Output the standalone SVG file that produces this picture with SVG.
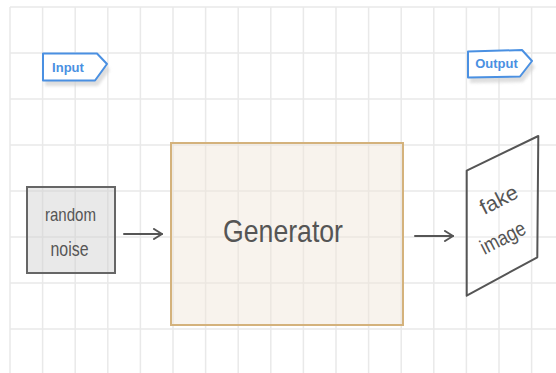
<svg xmlns="http://www.w3.org/2000/svg" width="556" height="373" viewBox="0 0 556 373">
  <style>
    .grid line { stroke: #e9e9e9; stroke-width: 1.5; }
    .txt { font-family: "Liberation Sans", "DejaVu Sans", sans-serif; fill: #555555; }
    .tag { fill: #ffffff; stroke: #4a90e2; stroke-width: 2; stroke-linejoin: round; }
    .tagshadow { fill: #d0d0d0; opacity: 0.7; }
    .tagtxt { font-family: "Liberation Sans", "DejaVu Sans", sans-serif; font-weight: bold; font-size: 13px; fill: #4a90e2; }
    .conn { stroke: #555555; stroke-width: 2; fill: none; stroke-linecap: round; stroke-linejoin: round; }
  </style>
  <defs>
    <marker id="arrow" viewBox="0 0 12 12" refX="11" refY="6" markerWidth="12" markerHeight="12" markerUnits="userSpaceOnUse" orient="auto">
      <path d="M3,1 L11,6 L3,11" fill="none" stroke="#555555" stroke-width="2" stroke-linecap="round" stroke-linejoin="round"/>
    </marker>
    <filter id="blur" x="-20%" y="-20%" width="140%" height="160%">
      <feGaussianBlur stdDeviation="1.5"/>
    </filter>
  </defs>
  <rect x="0" y="0" width="556" height="373" fill="#ffffff"/>
  <g class="grid" id="grid">
    <line x1="10" y1="7" x2="556" y2="7"/>
    <line x1="10" y1="53" x2="556" y2="53"/>
    <line x1="10" y1="99" x2="556" y2="99"/>
    <line x1="10" y1="145" x2="556" y2="145"/>
    <line x1="10" y1="191" x2="556" y2="191"/>
    <line x1="10" y1="237" x2="556" y2="237"/>
    <line x1="10" y1="283" x2="556" y2="283"/>
    <line x1="10" y1="329" x2="556" y2="329"/>
    <line x1="10" y1="7" x2="10" y2="373"/>
    <line x1="42.6" y1="7" x2="42.6" y2="373"/>
    <line x1="75.2" y1="7" x2="75.2" y2="373"/>
    <line x1="107.8" y1="7" x2="107.8" y2="373"/>
    <line x1="140.4" y1="7" x2="140.4" y2="373"/>
    <line x1="173" y1="7" x2="173" y2="373"/>
    <line x1="205.6" y1="7" x2="205.6" y2="373"/>
    <line x1="238.2" y1="7" x2="238.2" y2="373"/>
    <line x1="270.8" y1="7" x2="270.8" y2="373"/>
    <line x1="303.4" y1="7" x2="303.4" y2="373"/>
    <line x1="336" y1="7" x2="336" y2="373"/>
    <line x1="368.6" y1="7" x2="368.6" y2="373"/>
    <line x1="401.2" y1="7" x2="401.2" y2="373"/>
    <line x1="433.8" y1="7" x2="433.8" y2="373"/>
    <line x1="466.4" y1="7" x2="466.4" y2="373"/>
    <line x1="499" y1="7" x2="499" y2="373"/>
    <line x1="531.6" y1="7" x2="531.6" y2="373"/>
  </g>
  <g id="input-tag">
    <path class="tagshadow" filter="url(#blur)" d="M45,59 L100,59 L110,70 L98,86 L45,86 Z"/>
    <path class="tag" d="M43,53.5 L97,53.5 L107,64 L95,80.5 L43,80.5 Z"/>
    <text class="tagtxt" x="68" y="71.5" text-anchor="middle">Input</text>
  </g>
  <g id="output-tag">
    <path class="tagshadow" filter="url(#blur)" d="M470,56 L525,56 L535,67 L523,82 L470,83 Z"/>
    <path class="tag" d="M468,51.5 L522,50 L532,61 L520,76.5 L468,77.5 Z"/>
    <text class="tagtxt" x="496.5" y="68" text-anchor="middle">Output</text>
  </g>
  <g id="random-noise">
    <rect x="27" y="187" width="88" height="86" fill="#cfcfcf" fill-opacity="0.45" stroke="#666666" stroke-width="2"/>
    <text class="txt" x="70.5" y="221" font-size="19" text-anchor="middle" textLength="51" lengthAdjust="spacingAndGlyphs">random</text>
    <text class="txt" x="69.5" y="255.5" font-size="20" text-anchor="middle" textLength="38" lengthAdjust="spacingAndGlyphs">noise</text>
  </g>
  <g id="generator">
    <rect x="171" y="143" width="232" height="182" fill="#efe5d6" fill-opacity="0.45" stroke="#d4b27c" stroke-width="2"/>
    <text class="txt" x="283" y="241.5" font-size="32" text-anchor="middle" textLength="120" lengthAdjust="spacingAndGlyphs">Generator</text>
  </g>
  <g id="fake-image">
    <path d="M466.7,170.7 L538.3,136 L537.3,257.3 L466.7,295.7 Z" fill="#ffffff" fill-opacity="0.2" stroke="#555555" stroke-width="2" stroke-linejoin="round"/>
    <text class="txt" font-size="21" text-anchor="middle" transform="translate(502,206) rotate(-27)" textLength="40" lengthAdjust="spacingAndGlyphs">fake</text>
    <text class="txt" font-size="21" text-anchor="middle" transform="translate(506,244) rotate(-27)" textLength="48" lengthAdjust="spacingAndGlyphs">image</text>
  </g>
  <g id="connectors">
    <line class="conn" x1="124" y1="234" x2="162" y2="234" marker-end="url(#arrow)"/>
    <line class="conn" x1="415" y1="236" x2="453" y2="236" marker-end="url(#arrow)"/>
  </g>
</svg>
